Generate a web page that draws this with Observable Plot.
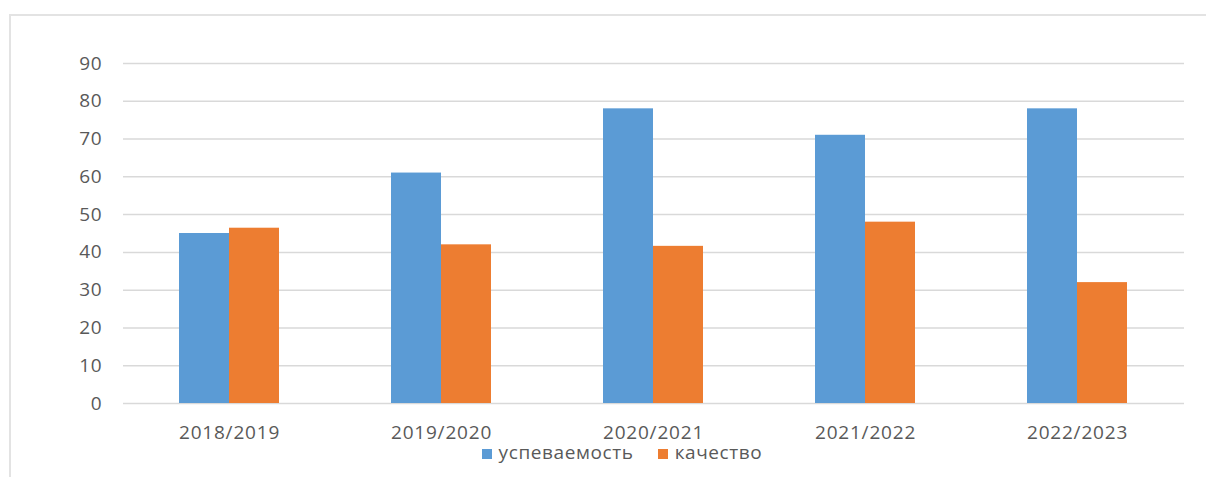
<!DOCTYPE html>
<html>
<head>
<meta charset="utf-8">
<script src="https://cdn.jsdelivr.net/npm/d3@7"></script>
<script src="https://cdn.jsdelivr.net/npm/@observablehq/plot@0.6"></script>
<style>
  html, body { margin: 0; padding: 0; background: #fff; }
  #wrap { position: relative; width: 1206px; height: 477px; overflow: hidden; font-family: "Open Sans", sans-serif; }
  #frame { position: absolute; left: 9px; top: 14px; width: 1220px; height: 500px; border-top: 2px solid #e3e3e3; border-left: 2px solid #e3e3e3; box-sizing: border-box; }
  #chart { position: absolute; left: 0; top: 0; }
  #legend { position: absolute; left: 0; width: 1206px; top: 443px; display: flex; justify-content: center; padding-left: 38px; box-sizing: border-box; font-size: 19px; line-height: 19px; letter-spacing: 0.6px; color: #595959; }
  .item { display: flex; align-items: center; margin: 0 12px; }
  .sw { width: 10px; height: 10px; margin-right: 7px; margin-top: 3px; }
</style>
</head>
<body>
<div id="wrap">
  <div id="frame"></div>
  <div id="chart"></div>
  <div id="legend"></div>
</div>
<script>
const years = ["2018/2019", "2019/2020", "2020/2021", "2021/2022", "2022/2023"];
const seriesNames = ["успеваемость", "качество"];
const uspevaemost = [45, 61, 78, 71, 78];
const kachestvo = [46.4, 42, 41.6, 48, 32];
const yTicks = [0, 10, 20, 30, 40, 50, 60, 70, 80, 90];
const colors = ["#5B9BD5", "#ED7D31"];

const rowsA = years.map((y, i) => ({year: y, series: seriesNames[0], value: uspevaemost[i]}));
const rowsB = years.map((y, i) => ({year: y, series: seriesNames[1], value: kachestvo[i]}));

const chart = Plot.plot({
  width: 1206,
  height: 477,
  marginLeft: 123,
  marginRight: 22,
  marginTop: 63,
  marginBottom: 74,
  style: {fontFamily: "'Open Sans', sans-serif", fontSize: "19px", color: "#595959", background: "transparent", letterSpacing: "0.8px"},
  x: {domain: years, paddingInner: 0.528, paddingOuter: 0.264, label: null, tickSize: 0, tickPadding: 22},
  y: {domain: [0, 90], ticks: yTicks, label: null, tickSize: 0, tickPadding: 21},
  color: {domain: seriesNames, range: colors},
  marks: [
    Plot.ruleY(yTicks, {stroke: "#d9d9d9", strokeWidth: 1.5}),
    Plot.barY(rowsA, {x: "year", y: "value", fill: "series", insetRight: 50}),
    Plot.barY(rowsB, {x: "year", y: "value", fill: "series", insetLeft: 50})
  ]
});
document.getElementById("chart").appendChild(chart);

const legend = document.getElementById("legend");
seriesNames.forEach((name, i) => {
  const item = document.createElement("div");
  item.className = "item";
  const sw = document.createElement("span");
  sw.className = "sw";
  sw.style.background = colors[i];
  const t = document.createElement("span");
  t.textContent = name;
  item.appendChild(sw);
  item.appendChild(t);
  legend.appendChild(item);
});
</script>
</body>
</html>
